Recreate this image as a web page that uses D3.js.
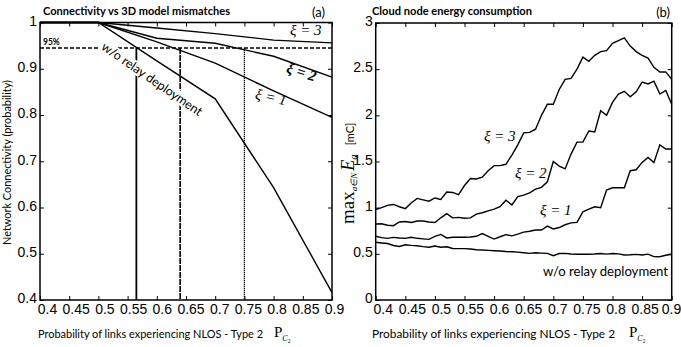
<!DOCTYPE html>
<html>
<head>
<meta charset="utf-8">
<script src="https://cdn.jsdelivr.net/npm/d3@7"></script>
<style>
  body { margin: 0; background: #fff; }
  svg { display: block; }
  .tick text { font-family: "Liberation Sans", Arial, sans-serif; font-size: 14px; fill: #000; }
  .lbl { font-family: Lato, "Open Sans", sans-serif; fill: #000; }
  .xi { font-family: "Liberation Serif", "DejaVu Serif", serif; font-style: italic; font-size: 15px; }
</style>
</head>
<body>
<svg id="chart" width="681" height="347"></svg>
<script>
// ---- data ----
// panel (a): connectivity vs P_C2
var connX = [0.5, 0.6, 0.7, 0.8, 0.9];
var connNoRelay = [1.0, 0.917, 0.835, 0.643, 0.416];
var connXi1 = [1.0, 0.958, 0.912, 0.852, 0.795];
var connXi2 = [1.0, 0.966, 0.955, 0.927, 0.882];
var connXi3 = [1.0, 0.988, 0.976, 0.962, 0.956];
var connLead = [0.4, 0.5];          // flat part at 1 before 0.5
var threshold = 0.945;              // "95%" line
var crossX = [0.565, 0.64, 0.75];   // where each curve meets 95%

// panel (b): max cloud node energy, P_C2 = 0.40 .. 0.90 step 0.01
var energyX = d3.range(0, 51).map(function(k) { return +(0.4 + k * 0.01).toFixed(2); });
var energyXi3 = [0.98, 1.00, 1.025, 1.035, 1.01, 0.99, 1.05, 1.10, 1.085, 1.07,
  1.105, 1.09, 1.17, 1.165, 1.14, 1.24, 1.315, 1.31, 1.33, 1.40,
  1.455, 1.455, 1.47, 1.57, 1.68, 1.81, 1.815, 1.85, 2.00, 2.12,
  2.12, 2.28, 2.39, 2.40, 2.50, 2.63, 2.585, 2.65, 2.69, 2.70,
  2.78, 2.81, 2.84, 2.75, 2.69, 2.65, 2.62, 2.52, 2.47, 2.47, 2.39];
var energyXi2 = [0.823, 0.825, 0.81, 0.805, 0.845, 0.85, 0.84, 0.855, 0.855, 0.845,
  0.84, 0.89, 0.935, 0.89, 0.895, 0.885, 0.89, 0.93, 0.945, 0.965,
  0.985, 1.01, 1.08, 1.03, 1.12, 1.135, 1.16, 1.20, 1.22, 1.28,
  1.50, 1.45, 1.42, 1.58, 1.71, 1.71, 1.83, 1.82, 2.05, 2.00,
  2.14, 2.23, 2.26, 2.20, 2.255, 2.36, 2.34, 2.37, 2.23, 2.27, 2.12];
var energyXi1 = [0.69, 0.675, 0.668, 0.678, 0.672, 0.668, 0.679, 0.668, 0.662, 0.657,
  0.69, 0.71, 0.672, 0.679, 0.679, 0.679, 0.683, 0.69, 0.72, 0.69,
  0.66, 0.685, 0.708, 0.695, 0.714, 0.735, 0.745, 0.758, 0.758, 0.80,
  0.77, 0.785, 0.815, 0.835, 0.84, 0.955, 0.985, 1.01, 1.00, 1.19,
  1.215, 1.215, 1.215, 1.40, 1.41, 1.49, 1.545, 1.49, 1.68, 1.635, 1.635];
var energyNoRelay = [0.625, 0.618, 0.612, 0.59, 0.58, 0.598, 0.592, 0.588, 0.578, 0.572,
  0.585, 0.572, 0.576, 0.558, 0.556, 0.556, 0.552, 0.545, 0.542, 0.538,
  0.534, 0.53, 0.525, 0.522, 0.518, 0.512, 0.505, 0.512, 0.508, 0.505,
  0.48, 0.503, 0.505, 0.498, 0.496, 0.496, 0.496, 0.498, 0.503, 0.497,
  0.503, 0.50, 0.488, 0.49, 0.494, 0.488, 0.497, 0.47, 0.468, 0.485, 0.495];

var xTicks = [0.4, 0.45, 0.5, 0.55, 0.6, 0.65, 0.7, 0.75, 0.8, 0.85, 0.9];
var yTicksA = [0.4, 0.5, 0.6, 0.7, 0.8, 0.9, 1];
var yTicksB = [0, 0.5, 1, 1.5, 2, 2.5, 3];

var svg = d3.select("#chart");
svg.append("rect").attr("width", 681).attr("height", 347).attr("fill", "#fff");

var fmt = function(d) { return String(d); };

// draws the box, inward ticks and tick labels of one panel
function frame(x, y, yTicks, lastEnd) {
  var g = svg.append("g");
  var x0 = x.range()[0], x1 = x.range()[1], y0 = y.range()[0], y1 = y.range()[1];
  var xb = g.append("g").attr("transform", "translate(0," + y0 + ")")
    .call(d3.axisBottom(x).tickValues(xTicks).tickFormat(fmt).tickSize(-4).tickPadding(4));
  // labels in the original sit a little right of their ticks, less so to the right
  xb.selectAll(".tick text").attr("dx", function(d, i) { return 7 - 0.5 * i; });
  if (lastEnd) {
    xb.selectAll(".tick text").filter(function(d, i) { return i == xTicks.length - 1; })
      .attr("text-anchor", "end").attr("dx", 9);
  }
  g.append("g").attr("transform", "translate(0," + y1 + ")")
    .call(d3.axisTop(x).tickValues(xTicks).tickFormat("").tickSize(-4));
  var yl = g.append("g").attr("transform", "translate(" + x0 + ",0)")
    .call(d3.axisLeft(y).tickValues(yTicks).tickFormat(fmt).tickSize(-4).tickPadding(3));
  yl.selectAll("text").attr("dy", "0.2em");
  g.append("g").attr("transform", "translate(" + x1 + ",0)")
    .call(d3.axisRight(y).tickValues(yTicks).tickFormat("").tickSize(-4));
  g.selectAll(".domain").remove();
  g.selectAll(".tick line").attr("stroke", "#000").attr("stroke-width", 1);
  g.append("rect").attr("x", x0).attr("y", y1).attr("width", x1 - x0).attr("height", y0 - y1)
    .attr("fill", "none").attr("stroke", "#000").attr("stroke-width", 1.5);
}

function pLabel(xStart, xEnd, baseline, pX) {
  svg.append("text").attr("class", "lbl").attr("x", xStart).attr("y", baseline)
    .attr("font-size", 11.5).attr("textLength", xEnd - xStart).attr("lengthAdjust", "spacingAndGlyphs")
    .text("Probability of links experiencing NLOS - Type 2");
  var t = svg.append("text").attr("x", pX).attr("y", baseline - 1)
    .attr("font-family", "Liberation Serif, serif");
  t.append("tspan").attr("font-size", 15).text("P");
  t.append("tspan").attr("font-size", 8).attr("font-style", "italic").attr("dy", 4).text("C");
  t.append("tspan").attr("font-size", 5.5).attr("dy", 1.5).text("2");
}

// ================= panel (a) =================
var xA = d3.scaleLinear().domain([0.4, 0.9]).range([40, 332]);
var yA = d3.scaleLinear().domain([0.4, 1]).range([300, 22.5]);
var lineA = d3.line().x(function(d) { return xA(d[0]); }).y(function(d) { return yA(d[1]); });

var gA = svg.append("g");
[connXi3, connXi2, connXi1, connNoRelay].forEach(function(s) {
  var pts = connLead.map(function(v) { return [v, 1]; })
    .concat(connX.slice(1).map(function(v, i) { return [v, s[i + 1]]; }));
  gA.append("path").attr("d", lineA(pts)).attr("fill", "none")
    .attr("stroke", "#000").attr("stroke-width", 1.4);
});

// 95% line and the vertical drops
gA.append("path").attr("d", lineA([[0.4, threshold], [0.9, threshold]]))
  .attr("stroke", "#000").attr("stroke-width", 1.6).attr("stroke-dasharray", "4,2");
var dashes = [null, "6,1", "1.2,0.8"];
var widths = [1.8, 1.6, 1.3];
crossX.forEach(function(cx, i) {
  gA.append("path").attr("d", lineA([[cx, threshold], [cx, 0.4]]))
    .attr("stroke", "#000").attr("stroke-width", widths[i])
    .attr("stroke-dasharray", dashes[i]);
});

// rotated label with a white box that hides the lines behind it
var wo = svg.append("g").attr("transform", "translate(152,79) rotate(34.5)");
var woText = wo.append("text").attr("class", "lbl").attr("text-anchor", "middle")
  .attr("dy", "0.35em").attr("font-size", 12.5).attr("fill", "#333")
  .text("w/o relay deployment");
var bb = woText.node().getBBox();
wo.insert("rect", "text").attr("x", bb.x - 2).attr("y", bb.y + 1)
  .attr("width", bb.width + 4).attr("height", bb.height - 2).attr("fill", "#fff");

frame(xA, yA, yTicksA, false);

svg.append("text").attr("class", "lbl").attr("x", 43).attr("y", 45)
  .attr("font-size", 8.5).attr("font-weight", "bold").text("95%");
svg.append("text").attr("class", "xi").attr("x", 290).attr("y", 35).text("ξ = 3");
svg.append("text").attr("class", "xi").attr("font-weight", "bold")
  .attr("transform", "translate(300,77) rotate(18)").attr("text-anchor", "middle").text("ξ = 2");
svg.append("text").attr("class", "xi")
  .attr("transform", "translate(270,102) rotate(12)").attr("text-anchor", "middle").text("ξ = 1");

svg.append("text").attr("class", "lbl").attr("x", 43).attr("y", 15)
  .attr("font-size", 10.5).attr("font-weight", "bold")
  .attr("textLength", 187).attr("lengthAdjust", "spacingAndGlyphs")
  .text("Connectivity vs 3D model mismatches");
svg.append("text").attr("class", "lbl").attr("x", 325).attr("y", 17)
  .attr("text-anchor", "end").attr("font-size", 13).text("(a)");
svg.append("text").attr("class", "lbl").attr("font-size", 11)
  .attr("transform", "translate(11,245) rotate(-90)")
  .attr("textLength", 165).attr("lengthAdjust", "spacingAndGlyphs")
  .text("Network Connectivity (probability)");
pLabel(38, 263, 338, 274);

// ================= panel (b) =================
var xB = d3.scaleLinear().domain([0.4, 0.9]).range([375.7, 671.7]);
var yB = d3.scaleLinear().domain([0, 3]).range([300, 23]);
var lineB = d3.line().x(function(d) { return xB(d[0]); }).y(function(d) { return yB(d[1]); });

var gB = svg.append("g");
[energyXi3, energyXi2, energyXi1, energyNoRelay].forEach(function(s) {
  gB.append("path").attr("d", lineB(energyX.map(function(v, i) { return [v, s[i]]; })))
    .attr("fill", "none").attr("stroke", "#000").attr("stroke-width", 1.4);
});

frame(xB, yB, yTicksB, true);

svg.append("text").attr("class", "xi").attr("x", 484).attr("y", 141).text("ξ = 3");
svg.append("text").attr("class", "xi").attr("x", 515).attr("y", 178).text("ξ = 2");
svg.append("text").attr("class", "xi").attr("x", 540).attr("y", 215).text("ξ = 1");
svg.append("text").attr("class", "lbl").attr("x", 543).attr("y", 276)
  .attr("font-size", 12.5).attr("fill", "#333")
  .attr("textLength", 125).attr("lengthAdjust", "spacingAndGlyphs")
  .text("w/o relay deployment");

svg.append("text").attr("class", "lbl").attr("x", 372).attr("y", 15)
  .attr("font-size", 10.5).attr("font-weight", "bold")
  .attr("textLength", 160).attr("lengthAdjust", "spacingAndGlyphs")
  .text("Cloud node energy consumption");
svg.append("text").attr("class", "lbl").attr("x", 670).attr("y", 17)
  .attr("text-anchor", "end").attr("font-size", 13).text("(b)");

// y label: max_{a in N} E_a [mC]
var yl = svg.append("text").attr("transform", "translate(354,224) rotate(-90)")
  .attr("font-family", "Liberation Serif, serif");
yl.append("tspan").attr("font-size", 19).text("max");
yl.append("tspan").attr("font-size", 9).attr("font-style", "italic").attr("dy", 3).text("a∈N");
yl.append("tspan").attr("font-size", 18).attr("font-style", "italic").attr("dx", 2).attr("dy", -3).text("E");
yl.append("tspan").attr("font-size", 11).attr("font-style", "italic").attr("dy", 3).text("a");
yl.append("tspan").attr("font-size", 11).attr("font-family", "Lato, sans-serif")
  .attr("dx", 9).attr("dy", -3).text("[mC]");

pLabel(372, 615, 338, 629);
</script>
</body>
</html>
